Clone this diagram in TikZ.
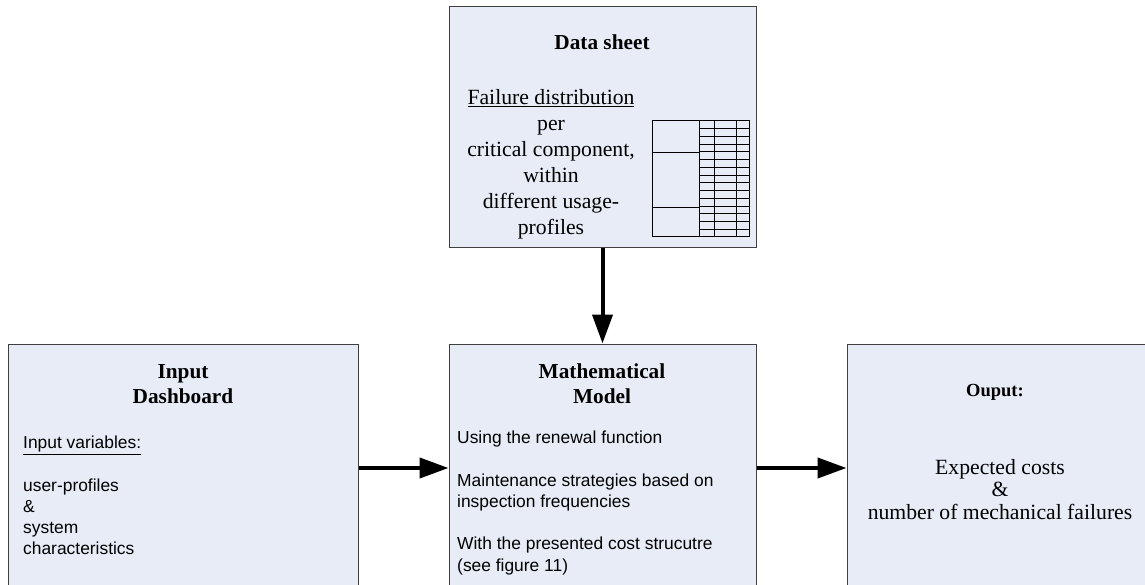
\documentclass[tikz,border=0pt]{standalone}
\usepackage{fontspec}
\setmainfont{Liberation Serif}
\setsansfont{Liberation Sans}
\usetikzlibrary{arrows.meta}
\definecolor{boxfill}{HTML}{E8ECF7}
\definecolor{boxline}{HTML}{404040}
\tikzset{
  box/.style={draw=boxline, line width=1pt, fill=boxfill, rectangle, inner sep=0pt},
  arr/.style={line width=4pt, -{Triangle[length=29pt,width=20pt]}},
  titletext/.style={font=\bfseries\fontsize{21.3}{25}\selectfont, align=center, inner sep=0pt},
  serifblock/.style={font=\fontsize{21.7}{26}\selectfont, align=center, inner sep=0pt},
  sansblock/.style={font=\sffamily\fontsize{17.4}{21.2}\selectfont, align=left, inner sep=0pt},
  tabline/.style={line width=1pt, black}
}
\begin{document}
\begin{tikzpicture}[x=1pt,y=-1pt]
\clip (0,0) rectangle (1145,585);
\fill[white] (0,0) rectangle (1145,585);
% boxes
\node[box, minimum width=307pt, minimum height=241pt] (ds) at (602.5,127.5) {};
\node[box, minimum width=350pt, minimum height=248pt] (in) at (183,468) {};
\node[box, minimum width=307pt, minimum height=248pt] (mm) at (602.5,468) {};
\node[box, minimum width=313pt, minimum height=248pt] (out) at (1003.5,468) {};
% data sheet
\node[titletext, anchor=base] (dst) at (602,50) {Data sheet};
\node[serifblock, anchor=north] (dsb) at (551,89) {\underline{Failure distribution}\\per\\critical component,\\within\\different usage-\\profiles};
% table
\coordinate (tnw) at (652,121);
\coordinate (tse) at (749,237);
\draw[tabline] (tnw) rectangle (tse);
\foreach \x in {699,714,736} \draw[tabline] (\x,121) -- (\x,237);
\foreach \y in {153,208} \draw[tabline] (652,\y) -- (699,\y);
\foreach \i in {1,...,14} \draw[tabline] (699,121+\i*7.733) -- (749,121+\i*7.733);
% input dashboard
\node[titletext, anchor=north] (int) at (183,364) {Input\\Dashboard};
\node[sansblock, anchor=north west] (inb) at (23,436) {\underline{Input variables:}\\[21.2pt]user-profiles\\\&\\system\\characteristics};
% math model
\node[titletext, anchor=north] (mmt) at (602,364) {Mathematical\\Model};
\node[sansblock, anchor=north west] (mmb) at (457,431) {Using the renewal function\\[21.2pt]Maintenance strategies based on\\inspection frequencies\\[21.2pt]With the presented cost strucutre\\(see figure 11)};
% output
\node[font=\bfseries\fontsize{18.5}{22}\selectfont, inner sep=0pt, anchor=base] (outt) at (995,396) {Ouput:};
\node[font=\fontsize{21.7}{22.5}\selectfont, align=center, inner sep=0pt, anchor=north] (outb) at (1000,459) {Expected costs\\\&\\number of mechanical failures};
% arrows
\draw[arr] (ds.south) -- (mm.north);
\draw[arr] (in.east) -- (mm.west);
\draw[arr] (mm.east) -- (out.west);
\end{tikzpicture}
\end{document}
